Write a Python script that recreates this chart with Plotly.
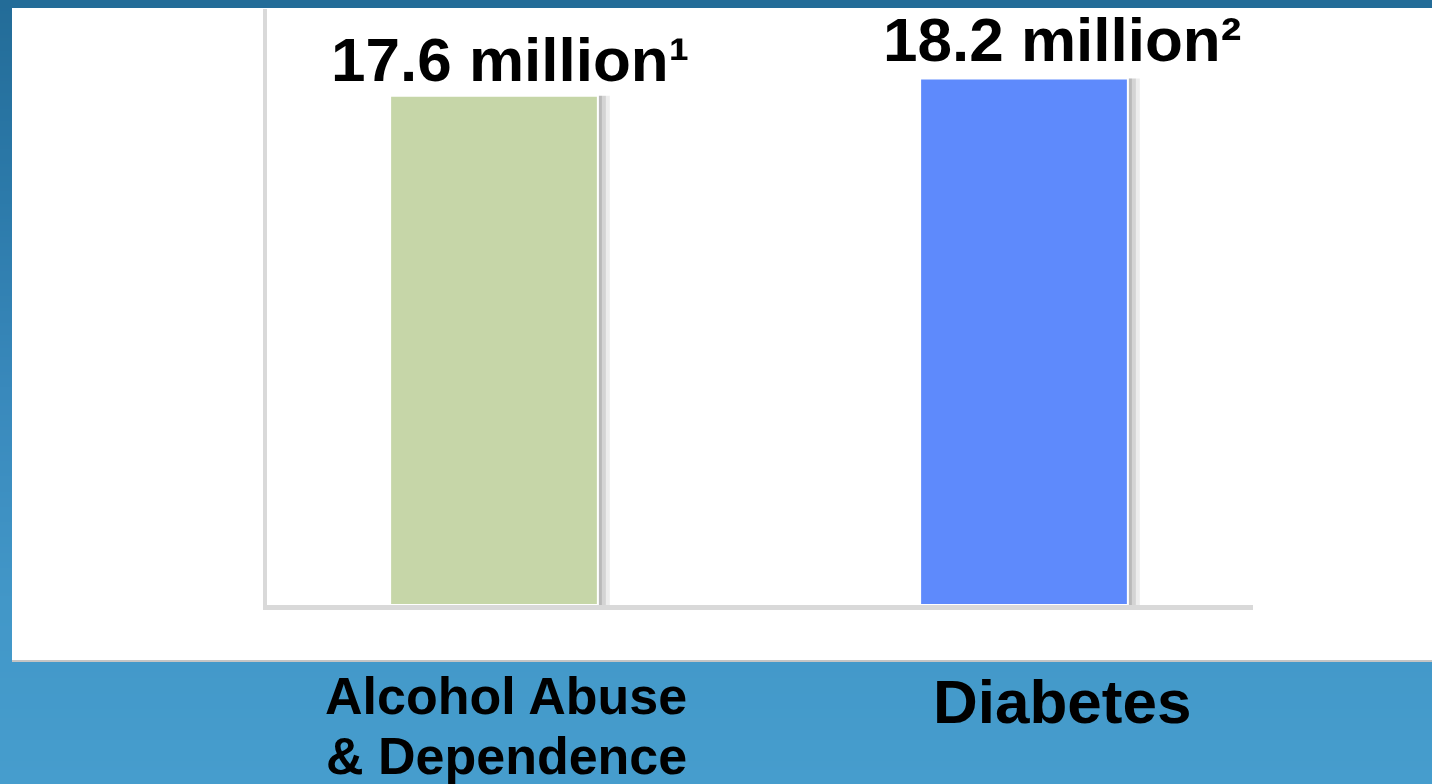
import base64
import struct
import zlib

import plotly.graph_objects as go

# ---------------- data ----------------
categories = ["Alcohol Abuse & Dependence", "Diabetes"]
category_labels = ["Alcohol Abuse<br>& Dependence", "Diabetes"]
values_million = [17.6, 18.2]
value_labels = ["17.6 million¹", "18.2 million²"]

# ---------------- styles ----------------
bar_colors = ["#c6d6a8", "#5e8afc"]
value_label_xshift = [16, 38]
value_label_yshift = [0, 2]
cat_label_size = [52, 62]
cat_label_xshift = [12, 38]
cat_label_top = [665, 665]
cat_line_step = 60

FIG_W, FIG_H = 1432, 784
L, R, T, B = 267, FIG_W - 1253, 9, FIG_H - 605
PW, PH = FIG_W - L - R, FIG_H - T - B


def px_x(X):
    return (X - L) / PW


def px_y(Y):
    return (FIG_H - B - Y) / PH


def gradient_png(stops, h=256):
    rows = b""
    for i in range(h):
        t = i / (h - 1)
        for j in range(len(stops) - 1):
            t0, c0 = stops[j]
            t1, c1 = stops[j + 1]
            if t0 <= t <= t1:
                f = (t - t0) / (t1 - t0) if t1 > t0 else 0
                c = [round(c0[k] + (c1[k] - c0[k]) * f) for k in range(3)]
                break
        rows += b"\x00" + bytes(c)

    def chunk(tag, data):
        return (struct.pack(">I", len(data)) + tag + data
                + struct.pack(">I", zlib.crc32(tag + data) & 0xFFFFFFFF))

    png = (b"\x89PNG\r\n\x1a\n"
           + chunk(b"IHDR", struct.pack(">IIBBBBB", 1, h, 8, 2, 0, 0, 0))
           + chunk(b"IDAT", zlib.compress(rows))
           + chunk(b"IEND", b""))
    return "data:image/png;base64," + base64.b64encode(png).decode()


bg = gradient_png([
    (0.0, (35, 108, 152)),
    (0.25, (44, 122, 170)),
    (0.5, (57, 137, 188)),
    (0.77, (66, 151, 200)),
    (1.0, (70, 157, 205)),
])

BAR_W = 0.392
unit_px = 530.0

fig = go.Figure()

# soft drop shadow on the right side of each bar
for d_px, a in [(4, 0.13), (8, 0.10), (12, 0.07)]:
    fig.add_trace(go.Bar(
        x=[0, 1], y=values_million, width=BAR_W,
        offset=-BAR_W / 2 + d_px / unit_px,
        marker=dict(color=f"rgba(0,0,0,{a})", line=dict(width=0)),
        hoverinfo="skip", showlegend=False,
    ))

fig.add_trace(go.Bar(
    x=[0, 1], y=values_million, width=BAR_W,
    marker=dict(color=bar_colors, line=dict(color="white", width=2)),
    showlegend=False,
    hovertext=categories,
))

for i, (v, lab) in enumerate(zip(values_million, value_labels)):
    fig.add_annotation(
        x=i, y=v, xref="x", yref="y", text=lab, showarrow=False,
        yanchor="bottom", xanchor="center",
        xshift=value_label_xshift[i], yshift=value_label_yshift[i],
        font=dict(family="Arial, Liberation Sans, sans-serif", size=62,
                  color="black", weight="bold"),
    )

for i, lab in enumerate(category_labels):
    for k, line in enumerate(lab.split("<br>")):
        fig.add_annotation(
            x=i, y=px_y(cat_label_top[i] + k * cat_line_step),
            xref="x", yref="paper", text=line,
            showarrow=False, yanchor="top", xanchor="center",
            xshift=cat_label_xshift[i],
            font=dict(family="Arial, Liberation Sans, sans-serif",
                      size=cat_label_size[i], color="black", weight="bold"),
        )

fig.update_layout(
    width=FIG_W, height=FIG_H,
    margin=dict(l=L, r=R, t=T, b=B),
    paper_bgcolor="#3f8fc0",
    plot_bgcolor="white",
    barmode="overlay",
    showlegend=False,
    images=[dict(
        source=bg, xref="paper", yref="paper",
        x=px_x(0), y=px_y(0), sizex=FIG_W / PW, sizey=FIG_H / PH,
        xanchor="left", yanchor="top", sizing="stretch", layer="below",
    )],
    shapes=[
        dict(type="rect", xref="paper", yref="paper",
             x0=px_x(12), x1=px_x(1440), y0=px_y(661), y1=px_y(8),
             fillcolor="white", line=dict(width=0), layer="below"),
        dict(type="line", xref="paper", yref="paper",
             x0=px_x(12), x1=px_x(1440), y0=px_y(661), y1=px_y(661),
             line=dict(color="#c4c4c4", width=2), layer="below"),
    ],
    xaxis=dict(range=[(L - 494) / unit_px, (FIG_W - R - 494) / unit_px],
               showgrid=False, zeroline=False, showticklabels=False,
               ticks="", showline=True, linecolor="#d9d9d9", linewidth=5,
               fixedrange=True),
    yaxis=dict(range=[0, 20.6], showgrid=False, zeroline=False,
               showticklabels=False, ticks="", showline=True,
               linecolor="#d9d9d9", linewidth=4, fixedrange=True),
)

fig.write_html(
    "out.html",
    config={"displayModeBar": False},
    post_script="document.body.style.margin='0';"
                "document.body.style.overflow='hidden';",
)
